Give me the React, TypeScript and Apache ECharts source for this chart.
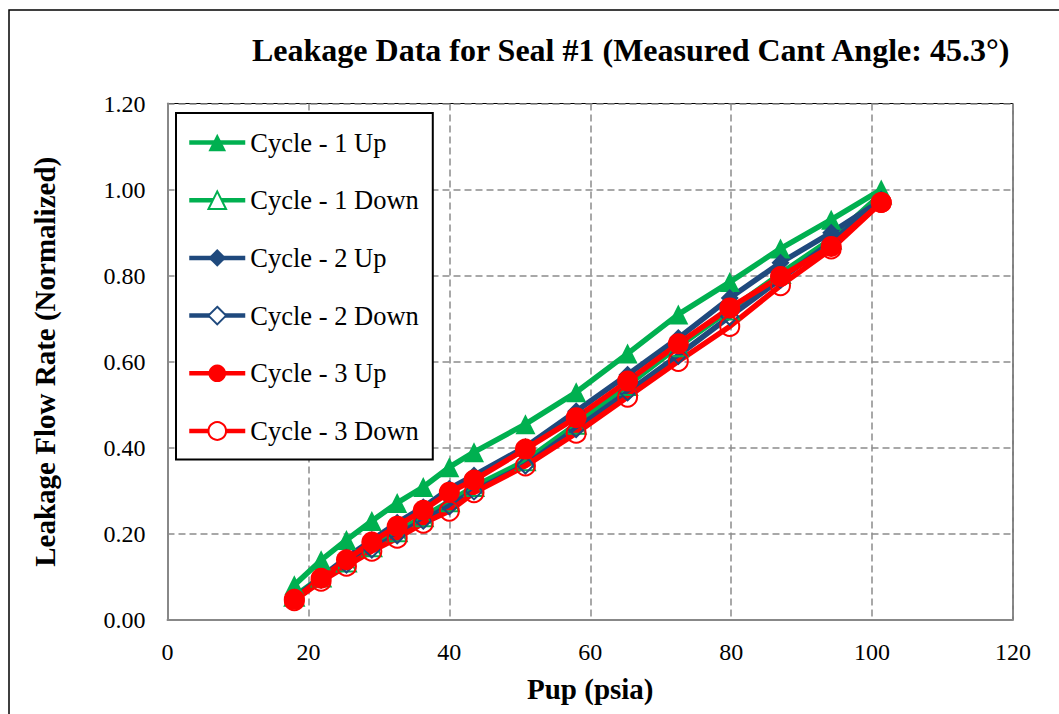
import React, { useEffect, useRef } from "react";
import * as echarts from "echarts";

const titleText = "Leakage Data for Seal #1 (Measured Cant Angle: 45.3°)";
const xAxisName = "Pup (psia)";
const yAxisName = "Leakage Flow Rate (Normalized)";

const pupUp = [18.0, 21.8, 25.4, 29.0, 32.6, 36.3, 40.0, 43.5, 50.8, 58.0, 65.3, 72.5, 79.8, 87.0, 94.2, 101.3];
const pupDown = [...pupUp].reverse();

const cycle1Up = [0.081, 0.139, 0.186, 0.230, 0.272, 0.309, 0.355, 0.390, 0.455, 0.529, 0.619, 0.710, 0.785, 0.863, 0.930, 1.000];
const cycle1Down = [0.990, 0.885, 0.805, 0.720, 0.635, 0.545, 0.455, 0.370, 0.310, 0.275, 0.240, 0.205, 0.170, 0.135, 0.100, 0.055];
const cycle2Up = [0.050, 0.100, 0.145, 0.186, 0.226, 0.262, 0.305, 0.336, 0.402, 0.485, 0.570, 0.655, 0.748, 0.830, 0.900, 0.975];
const cycle2Down = [0.975, 0.878, 0.792, 0.705, 0.615, 0.530, 0.445, 0.360, 0.300, 0.265, 0.232, 0.198, 0.165, 0.130, 0.095, 0.050];
const cycle3Up = [0.048, 0.097, 0.140, 0.181, 0.218, 0.255, 0.297, 0.325, 0.397, 0.470, 0.555, 0.642, 0.725, 0.798, 0.868, 0.970];
const cycle3Down = [0.970, 0.862, 0.777, 0.682, 0.601, 0.518, 0.434, 0.358, 0.296, 0.253, 0.225, 0.190, 0.160, 0.125, 0.090, 0.045];

const seriesNames = ["Cycle - 1 Up", "Cycle - 1 Down", "Cycle - 2 Up", "Cycle - 2 Down", "Cycle - 3 Up", "Cycle - 3 Down"];

const GREEN = "#00B050";
const BLUE = "#1F497D";
const RED = "#FF0000";
const FONT = "'Liberation Serif', 'Times New Roman', serif";

function pairs(xs: number[], ys: number[]) {
  return xs.map((x, i) => [x, ys[i]]);
}

function mkSeries(name: string, xs: number[], ys: number[], color: string, symbol: string, size: number, open: boolean) {
  return {
    name,
    type: "line",
    data: pairs(xs, ys),
    symbol,
    symbolSize: size,
    showSymbol: true,
    lineStyle: { color, width: 5.5 },
    itemStyle: open
      ? { color: "rgba(255,255,255,0)", borderColor: color, borderWidth: 2 }
      : { color, borderColor: color, borderWidth: 0 },
    emphasis: { disabled: true },
  };
}

const legendColors = [GREEN, GREEN, BLUE, BLUE, RED, RED];
const legendOpen = [false, true, false, true, false, true];

export default function App() {
  const ref = useRef<HTMLDivElement>(null);
  useEffect(() => {
    if (!ref.current) return;
    const chart = echarts.init(ref.current, null, { renderer: "svg" });
    chart.setOption({
      animation: false,
      backgroundColor: "#ffffff",
      title: {
        text: titleText,
        left: 252,
        top: 34,
        padding: 0,
        textStyle: { fontFamily: FONT, fontSize: 32, fontWeight: "bold", color: "#000" },
      },
      graphic: [
        {
          type: "rect",
          shape: { x: 9, y: 10, width: 1200, height: 800 },
          style: { fill: "none", stroke: "#000", lineWidth: 1.5 },
          silent: true,
          z: -10,
        },
      ],
      legend: {
        orient: "vertical",
        left: 176,
        top: 113,
        padding: [16, 14, 15, 11],
        itemWidth: 56,
        itemHeight: 22,
        itemGap: 30.7,
        backgroundColor: "#ffffff",
        borderColor: "#000",
        borderWidth: 2,
        lineStyle: { width: 4.5 },
        textStyle: { fontFamily: FONT, fontSize: 26.5, color: "#000", lineHeight: 27 },
        data: seriesNames.map((n, i) => ({
          name: n,
          itemStyle: legendOpen[i]
            ? { color: "#ffffff", borderColor: legendColors[i], borderWidth: 2 }
            : { color: legendColors[i] },
        })),
        selectedMode: false,
        z: 10,
      },
      grid: {
        left: 167.5,
        right: 46,
        top: 103.5,
        bottom: 94,
        show: true,
        borderColor: "#000",
        borderWidth: 1,
        backgroundColor: "transparent",
      },
      xAxis: {
        type: "value",
        min: 0,
        max: 120,
        interval: 20,
        name: xAxisName,
        nameLocation: "middle",
        nameGap: 54,
        nameTextStyle: { fontFamily: FONT, fontSize: 29, fontWeight: "bold", color: "#000", verticalAlign: "top" },
        axisLine: { show: true, lineStyle: { color: "#888", width: 2 } },
        axisTick: { show: false },
        axisLabel: { fontFamily: FONT, fontSize: 24, color: "#000", margin: 20 },
        splitLine: { show: true, lineStyle: { color: "#8c8c8c", width: 1.5, type: [7, 4] } },
      },
      yAxis: {
        type: "value",
        min: 0,
        max: 1.2,
        interval: 0.2,
        name: yAxisName,
        nameLocation: "middle",
        nameGap: 108,
        nameTextStyle: { fontFamily: FONT, fontSize: 29, fontWeight: "bold", color: "#000" },
        axisLine: { show: true, lineStyle: { color: "#888", width: 2 } },
        axisTick: { show: false },
        axisLabel: {
          fontFamily: FONT,
          fontSize: 24,
          color: "#000",
          margin: 22,
          formatter: (v: number) => v.toFixed(2),
        },
        splitLine: { show: true, lineStyle: { color: "#8c8c8c", width: 1.5, type: [7, 4] } },
      },
      series: [
        mkSeries(seriesNames[0], pupUp, cycle1Up, GREEN, "triangle", 20, false),
        mkSeries(seriesNames[1], pupDown, cycle1Down, GREEN, "triangle", 19, true),
        mkSeries(seriesNames[2], pupUp, cycle2Up, BLUE, "diamond", 18, false),
        mkSeries(seriesNames[3], pupDown, cycle2Down, BLUE, "diamond", 17, true),
        mkSeries(seriesNames[4], pupUp, cycle3Up, RED, "circle", 21, false),
        mkSeries(seriesNames[5], pupDown, cycle3Down, RED, "circle", 19, true),
      ],
    });
    return () => chart.dispose();
  }, []);
  return (
    <div
      ref={ref}
      style={{ position: "fixed", left: 0, top: 0, width: 1059, height: 714, background: "#fff" }}
    />
  );
}
